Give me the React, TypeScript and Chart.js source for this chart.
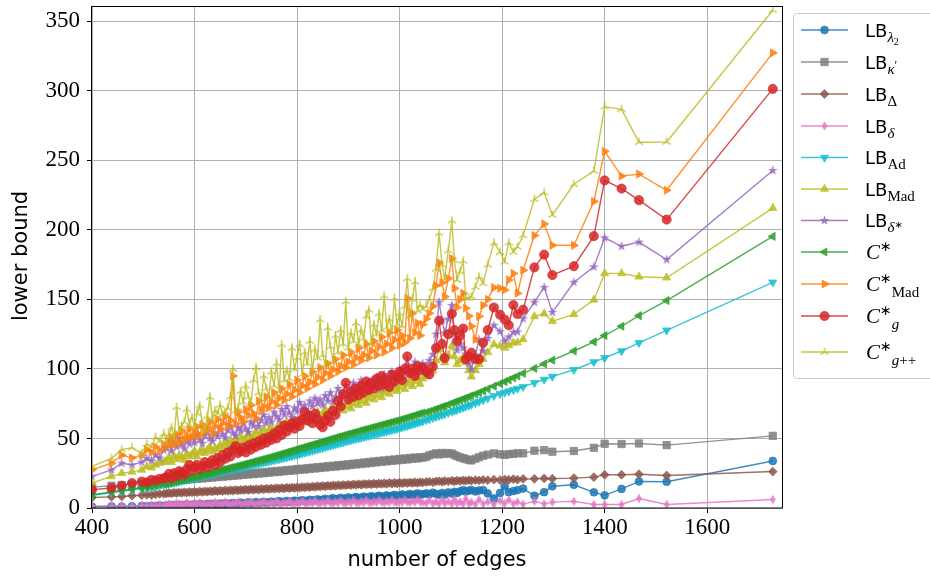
import React, { useEffect, useRef } from "react";
import { Chart, registerables } from "chart.js";
import { drawPoint } from "chart.js/helpers";
Chart.register(...registerables);

// ---------------- data ----------------
const edges = [
  400, 438, 458, 478, 497, 507, 516, 524, 532, 540,
  545, 550, 555, 560, 565, 570, 575, 580, 585, 590,
  595, 600, 605, 610, 615, 620, 625, 630, 635, 640,
  645, 650, 655, 660, 665, 670, 675, 680, 685, 690,
  695, 700, 705, 710, 715, 720, 725, 730, 735, 740,
  745, 750, 755, 760, 765, 770, 775, 780, 785, 790,
  795, 800, 805, 810, 815, 820, 825, 830, 835, 840,
  845, 850, 855, 860, 865, 870, 875, 880, 885, 890,
  895, 900, 905, 910, 915, 920, 925, 930, 935, 940,
  945, 950, 955, 960, 965, 970, 975, 980, 985, 990,
  995, 1000, 1005, 1010, 1015, 1020, 1025, 1030, 1035, 1040,
  1045,
  1052, 1058, 1065, 1071, 1077, 1083, 1088, 1095, 1102, 1107,
  1112, 1118, 1124, 1129, 1135, 1140, 1148, 1155, 1163, 1172,
  1184, 1196, 1205, 1213, 1222, 1230, 1241, 1263, 1282, 1298,
  1340, 1379, 1400, 1433, 1467, 1521, 1728,
];

const lbLambda2 = [
  1, 1.2, 1, 1.3, 1.5, 1.2, 1.6, 1.4, 1.8, 1.5,
  1.7, 2, 1.6, 2.2, 1.8, 2.3, 1.9, 2.1, 2.5, 2,
  2.3, 2.6, 2.1, 2.8, 2.4, 2.2, 2.9, 2.5, 3, 2.6,
  2.8, 3.2, 2.7, 3.4, 2.9, 3.1, 3.6, 3, 3.3, 3.8,
  3.2, 3.5, 4, 3.4, 3.7, 4.2, 3.6, 3.9, 4.4, 3.8,
  4.1, 4.6, 4, 4.3, 4.9, 4.2, 4.5, 5.1, 4.4, 4.8,
  5.3, 4.7, 5, 5.6, 5, 5.3, 5.9, 5.3, 5.7, 6.2,
  5.6, 6, 6.6, 5.9, 6.3, 7, 6.2, 6.6, 7.3, 6.5,
  6.9, 7.6, 6.8, 7.2, 7.9, 7.1, 7.5, 8.2, 7.4, 7.8,
  8.5, 7.7, 8.1, 8.8, 8, 8.4, 9.1, 8.3, 8.7, 9.4,
  8.6, 9, 9.7, 8.9, 9.3, 10.1, 9.2, 9.7, 10.5, 9.6,
  10,
  10.5, 9.9, 11, 10.2, 9.6, 10.8, 9.6, 11.3, 10.4, 11.6,
  10.8, 12, 12.9, 11.8, 12.5, 12.9, 11.9, 12.6, 12.9, 10.5,
  6.9, 10.8, 15.6, 11.4, 12.2, 12.9, 14, 8.8, 11.4, 15.6,
  16.7, 11.3, 9.1, 13.7, 19.1, 18.9, 33.8,
];

const lbKappa = [
  15, 16, 16.5, 17, 17.5, 18, 17.8, 18.5, 18.8, 19,
  19.2, 19.9, 19.4, 20.1, 19.7, 20.5, 20.2, 20.8, 20.3, 21.1,
  20.7, 21.4, 21, 21.7, 21.2, 22.1, 21.6, 22.3, 21.9, 22.7,
  22.2, 23, 22.5, 23.3, 22.8, 23.6, 23.1, 23.9, 23.4, 24.2,
  23.8, 24.5, 24.1, 24.9, 24.4, 25.2, 24.7, 25.6, 25, 25.9,
  25.4, 26.3, 25.7, 26.6, 26, 26.9, 26.4, 27.3, 26.7, 27.6,
  27, 28, 27.4, 28.3, 27.7, 28.7, 28.1, 29, 28.4, 29.4,
  28.8, 29.7, 29.1, 30.1, 29.5, 30.4, 29.8, 30.8, 30.2, 31.1,
  30.5, 31.5, 30.9, 31.9, 31.3, 32.3, 31.6, 32.7, 32, 33.1,
  32.4, 33.5, 32.8, 33.9, 33.2, 34.2, 33.5, 34.6, 33.9, 34.9,
  34.2, 35.3, 34.6, 35.6, 34.9, 36, 35.3, 36.3, 35.6, 36.5,
  36.2,
  36.8, 37.9, 38.6, 39.3, 38.5, 39.6, 38.9, 39.5, 39.2, 38.1,
  37.2, 36.4, 35.8, 35.2, 34.6, 34.2, 35.4, 36.5, 37.6, 38.4,
  39.3, 38.6, 38.2, 38.7, 39, 39.4, 39.3, 41.2, 41.6, 40.5,
  41, 43.3, 46.2, 46, 46.4, 45.2, 51.9,
];

const lbDelta = [
  7.5, 8, 8.3, 8.8, 9.2, 9.5, 9.3, 9.9, 10.1, 10.2,
  10.4, 10.8, 10.5, 11, 10.7, 11.2, 10.9, 11.4, 11, 11.5,
  11.2, 11.7, 11.3, 11.9, 11.5, 12, 11.7, 12.2, 11.8, 12.4,
  12, 12.5, 12.1, 12.7, 12.3, 12.8, 12.4, 13, 12.6, 13.1,
  12.8, 13.3, 12.9, 13.5, 13.1, 13.6, 13.2, 13.8, 13.4, 13.9,
  13.6, 14.1, 13.7, 14.3, 13.9, 14.4, 14, 14.6, 14.2, 14.7,
  14.4, 14.9, 14.5, 15.1, 14.7, 15.3, 14.9, 15.5, 15.1, 15.7,
  15.3, 15.9, 15.5, 16.1, 15.7, 16.3, 15.9, 16.5, 16.1, 16.6,
  16.2, 16.8, 16.4, 17, 16.6, 17.1, 16.7, 17.3, 16.9, 17.4,
  17, 17.6, 17.1, 17.7, 17.3, 17.8, 17.4, 18, 17.5, 18.1,
  17.6, 18.2, 17.7, 18.3, 17.9, 18.4, 18, 18.5, 18.1, 18.6,
  18.3,
  18.7, 18.9, 18.5, 19.1, 19.3, 18.8, 19.4, 19.2, 19.6, 19.1,
  19.7, 19.4, 19.9, 19.5, 20, 19.6, 20.1, 19.8, 20.2, 20,
  20.4, 20.1, 20.5, 20.3, 20.7, 20.4, 20.9, 21, 21.3, 21.1,
  21.5, 22.2, 23.9, 23.9, 24.3, 23.4, 26.2,
];

const lbSmallDelta = [
  1.5, 1.5, 1.8, 1.5, 2, 1.6, 2.2, 1.8, 2.4, 1.9,
  2.2, 3.1, 2.5, 2, 3.6, 2.4, 3, 2.2, 3.8, 2.6,
  2.3, 3.3, 2.7, 4, 2.4, 3.1, 2.6, 3.5, 2.3, 4.2,
  2.8, 3.2, 2.5, 4.3, 2.9, 2.6, 3.7, 2.7, 4.4, 3,
  2.6, 3.8, 2.9, 4.6, 3.1, 2.7, 3.9, 3, 4.7, 3.2,
  2.8, 4, 3.1, 4.9, 3.3, 2.9, 4.1, 3.2, 5, 3.4,
  3, 4.2, 3.3, 5.1, 3.5, 3.1, 4.3, 3.4, 5.2, 3.6,
  3.2, 4.4, 3.5, 5.3, 3.7, 3.3, 4.5, 3.6, 5.4, 3.8,
  3.4, 4.6, 3.7, 5.5, 3.9, 3.5, 4.7, 3.8, 5.6, 4,
  3.6, 4.8, 3.9, 5.7, 4.1, 3.7, 4.9, 4, 5.8, 4.2,
  3.8, 5, 4.1, 5.9, 4.3, 3.9, 5.1, 4.2, 6, 4.4,
  4,
  3.5, 5.5, 3.2, 4.6, 3, 6, 3.4, 4.8, 3.1, 6.4,
  3.3, 4.5, 3, 6.8, 3.2, 4.2, 2.8, 6.1, 3, 4.5,
  2.6, 5.2, 3.4, 5.8, 3.1, 4.4, 2.8, 4.8, 3, 4.2,
  4.8, 2.5, 2.5, 2.5, 6.8, 2.5, 6.1,
];

const lbAd = [
  9, 11, 12, 13, 14, 14.5, 15.1, 15.7, 16.2, 16.8,
  17.1, 17.5, 17.9, 18.3, 18.7, 19.1, 19.5, 19.9, 20.3, 20.7,
  21.1, 21.5, 21.9, 22.4, 22.8, 23.2, 23.6, 24.1, 24.5, 24.9,
  25.4, 25.8, 26.2, 26.6, 27, 27.4, 27.8, 28.2, 28.6, 29,
  29.4, 29.8, 30.2, 30.6, 31, 31.5, 31.9, 32.3, 32.7, 33.1,
  33.6, 34, 34.4, 34.8, 35.2, 35.7, 36.1, 36.5, 37, 37.4,
  37.9, 38.3, 38.8, 39.3, 39.8, 40.3, 40.8, 41.3, 41.8, 42.3,
  42.8, 43.3, 43.8, 44.3, 44.8, 45.3, 45.8, 46.3, 46.8, 47.3,
  47.8, 48.3, 48.8, 49.2, 49.7, 50.1, 50.6, 51, 51.5, 52,
  52.4, 52.9, 53.3, 53.8, 54.3, 54.7, 55.2, 55.7, 56.1, 56.6,
  57, 57.5, 58, 58.6, 59.1, 59.7, 60.2, 60.8, 61.3, 61.9,
  62.4,
  63.3, 64, 64.8, 65.6, 66.3, 67, 67.6, 68.5, 69.3, 70,
  70.6, 71.4, 72.2, 72.9, 73.7, 74.4, 75.5, 76.5, 77.7, 78.9,
  80.6, 82, 83, 84, 85, 85.9, 87.2, 90, 92.4, 94.5,
  99.4, 105, 107.9, 112.9, 118.8, 127.8, 162.3,
];

const lbMad = [
  17.9, 22.7, 25, 26, 27.4, 29.8, 29, 31, 32.2, 33,
  34, 36.5, 33, 37.5, 35, 38, 36.5, 34.5, 39, 37,
  38.5, 41, 37, 40, 42.5, 39.5, 41.5, 44, 40.5, 43,
  42, 45.5, 43, 47, 44.5, 48.5, 46, 49.5, 47, 51,
  48.5, 50, 53, 49.5, 52, 55, 51.5, 54, 57, 53,
  55.5, 58, 54.5, 57, 60, 56, 59, 62, 58, 61,
  63.5, 60, 62.5, 65, 61.5, 64, 67, 63, 66, 69,
  65, 68, 71, 66.5, 70, 72.5, 68, 71, 74.5, 70,
  73, 76, 71.5, 75, 78, 74, 77, 80, 75.5, 79,
  82, 78, 81, 84, 79.5, 83, 86, 82, 85, 88,
  84, 87, 90, 85.5, 89, 92, 87.5, 91, 94, 89,
  93,
  95, 97, 98.7, 106, 114, 108, 104.6, 110, 116.5, 109,
  103.4, 106, 108, 104.6, 99, 94.4, 99, 103.4, 107, 112,
  117.7, 116.5, 115.2, 117, 118.8, 119, 121.2, 137.8, 139.7, 134.3,
  139.3, 149.7, 168.7, 168.7, 166.3, 165.6, 215.7,
];

const lbDeltaStar = [
  22.7, 27.4, 32.2, 31, 33, 35.7, 34, 38, 36, 41.7,
  43, 46.5, 41, 48, 44, 50, 45.5, 42.5, 49, 46,
  51, 47, 53.5, 49, 46.5, 52, 55, 50, 48, 54,
  51.5, 57, 53, 50.5, 56, 59, 54, 52, 58, 55.5,
  61, 57, 54.5, 62, 59, 64, 58.5, 63, 67, 61,
  65, 62, 69, 66, 63.5, 71, 67, 73, 68.5, 65,
  72, 69.5, 76, 71, 74, 68, 77, 73, 79, 75,
  78, 74, 81, 77, 83, 76.5, 80, 86, 79, 82.5,
  88, 81, 85, 90, 83.5, 87, 92, 85, 89, 84,
  91, 87, 94, 89.5, 86, 96, 91, 93.5, 98, 90,
  95, 100, 93, 97, 103, 96.5, 99, 105, 98, 102,
  104,
  102, 106, 110.5, 125, 148, 135, 126, 136, 145.7, 125,
  113.4, 118, 115, 110.8, 104, 99.9, 110, 121.2, 112.9, 122,
  131.4, 127, 120, 123, 126.4, 126.7, 136.2, 148, 158.7, 140.7,
  162.3, 173.4, 194.3, 188.2, 191.2, 178.6, 242.7,
];

const cStar = [
  9.5, 11.5, 12.5, 13.5, 14.5, 15, 15.6, 16.2, 16.9, 17.4,
  17.6, 18, 18.4, 18.9, 19.3, 19.8, 20.2, 20.7, 21.1, 21.6,
  22, 22.4, 22.9, 23.3, 23.8, 24.2, 24.7, 25.2, 25.6, 26.1,
  26.6, 27, 27.5, 27.9, 28.4, 28.9, 29.3, 29.8, 30.3, 30.7,
  31.2, 31.7, 32.2, 32.7, 33.2, 33.7, 34.2, 34.7, 35.2, 35.7,
  36.2, 36.7, 37.2, 37.8, 38.3, 38.9, 39.4, 40, 40.5, 41.1,
  41.6, 42.2, 42.7, 43.3, 43.8, 44.4, 44.9, 45.5, 46, 46.6,
  47.1, 47.7, 48.2, 48.8, 49.3, 49.9, 50.4, 51, 51.5, 52,
  52.6, 53.1, 53.6, 54.1, 54.6, 55.2, 55.7, 56.2, 56.7, 57.2,
  57.7, 58.2, 58.7, 59.2, 59.7, 60.2, 60.7, 61.2, 61.7, 62.2,
  62.7, 63.2, 63.8, 64.3, 64.9, 65.5, 66, 66.6, 67.2, 67.8,
  68.3,
  68.7, 69.4, 70.3, 71.1, 71.9, 72.7, 73.3, 74.3, 75.3, 76,
  76.7, 77.5, 78.4, 79.1, 80, 80.7, 81.8, 82.9, 84.2, 85.6,
  87.6, 89.4, 90.8, 92.1, 93.6, 94.9, 96.8, 100.4, 103.6, 106.3,
  112.9, 119.5, 124, 130.7, 138.3, 149.2, 195.3,
];

const cStarMad = [
  27.4, 32.2, 38, 36, 38, 42, 40, 44, 41, 46,
  44, 48, 51, 45.5, 53, 47, 55.5, 49, 52, 57,
  50.5, 54, 58.5, 52, 60, 55, 57.5, 62, 53.5, 59,
  64, 56.5, 61, 66, 58.5, 63, 95, 60.5, 69, 65,
  62, 71, 66.5, 74, 68, 64.5, 77, 70, 73, 80,
  72, 76.5, 83, 74, 79, 86, 77.5, 82, 89, 80,
  85, 92, 83, 88, 95, 86, 90.5, 98, 89, 94,
  101, 92, 97, 104, 95, 99.5, 107, 98, 102, 110,
  101, 105, 112, 103, 108, 115, 106, 110, 118, 108,
  113, 120, 110, 116, 123, 112, 118, 126, 115, 121,
  128, 117, 124, 119, 151, 122, 140, 126, 133, 124,
  132,
  136, 140, 145, 160, 176.3, 162, 152, 165, 179.4, 158,
  144.2, 150, 154.4, 143.7, 138, 130.7, 121.2, 137.8, 145.7, 150,
  158.5, 158, 156.8, 164, 168.7, 154.4, 171, 196, 204.3, 188.9,
  188.9, 220.4, 256.5, 238.7, 240.1, 228.5, 327.3,
];

const cStarG = [
  13.2, 14.4, 16, 17.9, 19, 18.5, 20.3, 19.8, 21, 21.4,
  22, 24.5, 21.5, 25, 23, 26.5, 25.5, 24, 28, 31,
  27, 29.5, 31, 28, 30, 33, 29.5, 32, 34.5, 31,
  36, 33, 38, 35.5, 40, 37, 42, 44.5, 39.5, 41,
  43.5, 40, 45, 42, 46.5, 44, 48, 45.5, 50, 47,
  51, 49, 53.5, 50, 56, 52.5, 59.5, 55, 58, 61,
  57, 62, 59, 64, 69, 63, 66, 61, 67.8, 64,
  60, 58, 63, 66.5, 62, 70, 67, 77, 73, 82,
  90, 78, 84, 80, 86, 81, 88, 83, 91, 85,
  90, 86, 93, 88, 95, 89, 92, 87, 96, 91,
  94, 98, 92, 100, 109, 97, 100, 95, 102, 99,
  101,
  98, 96, 101.7, 115, 134.7, 118, 107.7, 125, 139.7, 128,
  120, 124, 129, 107, 109, 111.7, 107, 107, 118.8, 128,
  144.2, 139, 135.5, 131.4, 146, 139.5, 142.6, 173, 182.2, 167.5,
  173.9, 195.5, 235.6, 229.7, 221.4, 207.4, 301.4,
];

const cStarGpp = [
  30, 35.7, 42, 43.4, 39.3, 46, 44, 51, 48, 53.5,
  47, 53, 58, 50, 72.5, 56, 59, 62, 71, 60,
  65, 58, 68, 73.7, 61, 56, 66, 79.7, 64, 70,
  68, 74, 67, 69, 72, 80, 100, 70, 72, 84,
  76, 88, 80, 75, 92, 101, 83, 78, 95, 86,
  80, 98, 88, 104, 84, 117.6, 92, 99, 93, 115,
  100, 108, 117.6, 96, 112, 104, 120, 99, 114, 108,
  135.5, 110, 103, 129.5, 116, 106, 124, 112, 128, 118,
  148.5, 115, 126, 120, 133, 118, 128, 122, 138, 142.6,
  118, 132, 125, 140, 128, 152.6, 130, 136, 127, 150.9,
  132, 140, 131, 145, 165, 138, 150, 162.7, 142, 146,
  143,
  145, 150, 158, 172, 197.6, 175, 165, 185, 206.7, 178,
  164, 170, 177.7, 150.9, 151, 152, 159, 166.3, 161.5, 175,
  190.8, 184, 177, 190.8, 184, 187.7, 196, 222, 226.8, 210.7,
  232.8, 242.3, 288.6, 286.7, 263, 263.2, 357.9,
];

const xTicks = [400, 600, 800, 1000, 1200, 1400, 1600];
const yTicks = [0, 50, 100, 150, 200, 250, 300, 350];

// ---------------- styling ----------------
const SANS = '"DejaVu Sans", sans-serif';
const SERIF = '"Liberation Serif", serif';

function rgba(hex: string, a: number) {
  const n = parseInt(hex.slice(1), 16);
  return `rgba(${(n >> 16) & 255},${(n >> 8) & 255},${n & 255},${a})`;
}

function makeCanvas(size: number, draw: (c: CanvasRenderingContext2D) => void) {
  const c = document.createElement("canvas");
  c.width = size;
  c.height = size;
  const ctx = c.getContext("2d")!;
  ctx.translate(size / 2, size / 2);
  draw(ctx);
  return c;
}

function starMarker(color: string) {
  return makeCanvas(13, (ctx) => {
    const R = 5.2, r = R * 0.382;
    ctx.beginPath();
    for (let i = 0; i < 10; i++) {
      const rad = -Math.PI / 2 + (i * Math.PI) / 5;
      const rr = i % 2 === 0 ? R : r;
      const px = Math.cos(rad) * rr, py = Math.sin(rad) * rr;
      if (i === 0) ctx.moveTo(px, py); else ctx.lineTo(px, py);
    }
    ctx.closePath();
    ctx.fillStyle = color;
    ctx.fill();
  });
}

function thinDiamondMarker(color: string) {
  return makeCanvas(12, (ctx) => {
    ctx.beginPath();
    ctx.moveTo(0, -4.8);
    ctx.lineTo(2.9, 0);
    ctx.lineTo(0, 4.8);
    ctx.lineTo(-2.9, 0);
    ctx.closePath();
    ctx.fillStyle = color;
    ctx.fill();
  });
}

function triMarker(color: string) {
  return makeCanvas(12, (ctx) => {
    const r = 4.6;
    ctx.strokeStyle = color;
    ctx.lineWidth = 1.4;
    ctx.beginPath();
    ctx.moveTo(0, 0); ctx.lineTo(0, -r);
    ctx.moveTo(0, 0); ctx.lineTo(-0.866 * r, 0.5 * r);
    ctx.moveTo(0, 0); ctx.lineTo(0.866 * r, 0.5 * r);
    ctx.stroke();
  });
}

type Run = { t: string; f: string; dy: number; stack?: boolean; dx?: number };

const LB: Run = { t: "LB", f: `18px ${SANS}`, dy: 0 };
const SUBI = `italic 15px ${SERIF}`;
const SUBR = `15px ${SERIF}`;
const C: Run = { t: "C", f: `italic 21px ${SERIF}`, dy: 0, dx: 1 };
const STAR: Run = { t: "∗", f: `14px ${SANS}`, dy: -8 };

const legendRuns: Run[][] = [
  [LB, { t: "λ", f: SUBI, dy: 5 }, { t: "2", f: `10px ${SERIF}`, dy: 8 }],
  [LB, { t: "κ", f: SUBI, dy: 5 }, { t: "′", f: `12px ${SERIF}`, dy: 0 }],
  [LB, { t: "Δ", f: SUBR, dy: 5 }],
  [LB, { t: "δ", f: SUBI, dy: 5 }],
  [LB, { t: "Ad", f: SUBR, dy: 5 }],
  [LB, { t: "Mad", f: SUBR, dy: 5 }],
  [LB, { t: "δ", f: SUBI, dy: 5 }, { t: "∗", f: `10px ${SANS}`, dy: 1 }],
  [C, STAR],
  [C, STAR, { t: "Mad", f: `15px ${SERIF}`, dy: 6, stack: true }],
  [C, STAR, { t: "g", f: `italic 15px ${SERIF}`, dy: 6, stack: true }],
  [C, STAR, { t: "g", f: `italic 15px ${SERIF}`, dy: 6, stack: true }, { t: "++", f: `15px ${SERIF}`, dy: 6 }],
];
const legendY = [30, 62, 94, 126, 157.5, 189, 220.5, 252, 284, 316, 352];

export default function App() {
  const ref = useRef<HTMLCanvasElement>(null);

  useEffect(() => {
    document.body.style.margin = "0";
    const canvas = ref.current!;
    const A = 0.85;

    const specs = [
      { label: "LBl2", data: lbLambda2, color: "#1f77b4", style: "circle" as any, r: 3.9, rot: 0 },
      { label: "LBk", data: lbKappa, color: "#7f7f7f", style: "rect" as any, r: 5.2, rot: 0 },
      { label: "LBD", data: lbDelta, color: "#8c564b", style: "rectRot" as any, r: 4.4, rot: 0 },
      { label: "LBd", data: lbSmallDelta, color: "#e377c2", style: null as any, r: 4, rot: 0 },
      { label: "LBAd", data: lbAd, color: "#17becf", style: "triangle" as any, r: 4.7, rot: 180 },
      { label: "LBMad", data: lbMad, color: "#bcbd22", style: "triangle" as any, r: 4.7, rot: 0 },
      { label: "LBds", data: lbDeltaStar, color: "#9467bd", style: null as any, r: 4, rot: 0 },
      { label: "C", data: cStar, color: "#2ca02c", style: "triangle" as any, r: 4.7, rot: 270 },
      { label: "CMad", data: cStarMad, color: "#ff7f0e", style: "triangle" as any, r: 4.7, rot: 90 },
      { label: "Cg", data: cStarG, color: "#d62728", style: "circle" as any, r: 4.6, rot: 0 },
      { label: "Cgpp", data: cStarGpp, color: "#bcbd22", style: null as any, r: 4, rot: 0 },
    ];
    specs[3].style = thinDiamondMarker(rgba(specs[3].color, A));
    specs[6].style = starMarker(rgba(specs[6].color, A));
    specs[10].style = triMarker(rgba(specs[10].color, A));

    const n = specs.length;
    const datasets = specs.map((s, i) => ({
      label: s.label,
      data: edges.map((x, k) => ({ x, y: s.data[k] })),
      borderColor: rgba(s.color, A),
      backgroundColor: rgba(s.color, A),
      borderWidth: 1.4,
      pointStyle: s.style,
      pointRadius: s.r,
      pointRotation: s.rot,
      pointBorderWidth: 0.8,
      pointBackgroundColor: rgba(s.color, A),
      pointBorderColor: rgba(s.color, A),
      tension: 0,
      fill: false,
      clip: 0,
      order: n - i,
    }));

    const overlay = {
      id: "overlay",
      afterDatasetsDraw(chart: any) {
        const { ctx, chartArea: ca } = chart;
        ctx.save();
        ctx.strokeStyle = "#000";
        ctx.lineWidth = 1;
        ctx.strokeRect(Math.round(ca.left) - 0.5, Math.round(ca.top) + 0.5, Math.round(ca.right - ca.left) + 1, Math.round(ca.bottom - ca.top) - 0.5);
        ctx.restore();
      },
      afterDraw(chart: any) {
        const ctx: CanvasRenderingContext2D = chart.ctx;
        ctx.save();
        ctx.fillStyle = "#000";
        ctx.font = `21px ${SANS}`;
        ctx.textAlign = "center";
        ctx.textBaseline = "middle";
        ctx.fillText("number of edges", 437, 561);
        ctx.save();
        ctx.translate(22, 256);
        ctx.rotate(-Math.PI / 2);
        ctx.fillText("lower bound", 0, 0);
        ctx.restore();

        // legend box
        ctx.beginPath();
        const bx = 793.5, by = 13.5, bw = 145, bh = 365, rr = 3;
        ctx.moveTo(bx + rr, by);
        ctx.lineTo(bx + bw - rr, by);
        ctx.arcTo(bx + bw, by, bx + bw, by + rr, rr);
        ctx.lineTo(bx + bw, by + bh - rr);
        ctx.arcTo(bx + bw, by + bh, bx + bw - rr, by + bh, rr);
        ctx.lineTo(bx + rr, by + bh);
        ctx.arcTo(bx, by + bh, bx, by + bh - rr, rr);
        ctx.lineTo(bx, by + rr);
        ctx.arcTo(bx, by, bx + rr, by, rr);
        ctx.closePath();
        ctx.fillStyle = "rgba(255,255,255,0.8)";
        ctx.fill();
        ctx.strokeStyle = "#cccccc";
        ctx.lineWidth = 1;
        ctx.stroke();

        specs.forEach((s, i) => {
          const y = legendY[i];
          const col = rgba(s.color, A);
          ctx.strokeStyle = col;
          ctx.fillStyle = col;
          ctx.lineWidth = 1.4;
          ctx.beginPath();
          ctx.moveTo(801, y);
          ctx.lineTo(848, y);
          ctx.stroke();
          ctx.lineWidth = 0.8;
          drawPoint(ctx, { pointStyle: s.style, radius: s.r, rotation: s.rot, borderWidth: 0.8 } as any, 824.5, y);

          ctx.fillStyle = "#000";
          ctx.textAlign = "left";
          ctx.textBaseline = "alphabetic";
          let x = 865;
          let lastStart = x;
          const base = y + 6.5;
          legendRuns[i].forEach((run) => {
            ctx.font = run.f;
            const start = run.stack ? lastStart : x;
            ctx.fillText(run.t, start + (run.dx || 0), base + run.dy);
            const w = ctx.measureText(run.t).width + (run.dx || 0);
            if (!run.stack) { lastStart = x + w; x = start + w; }
            else { x = Math.max(x, start + w); }
          });
        });
        ctx.restore();
      },
    };

    const tickFont = { family: '"Liberation Serif", serif', size: 23 };
    const chart = new Chart(canvas, {
      type: "line",
      data: { datasets: datasets as any },
      options: {
        responsive: false,
        animation: false,
        events: [],
        layout: { padding: { left: 0, right: 148, top: 2, bottom: 0 } },
        plugins: { legend: { display: false }, tooltip: { enabled: false }, title: { display: false } },
        scales: {
          x: {
            type: "linear",
            min: 400,
            max: 1746,
            afterBuildTicks: (s: any) => { s.ticks = xTicks.map((v) => ({ value: v })); },
            afterFit: (s: any) => { s.height = 72; s.paddingLeft = 0; s.paddingRight = 0; s.paddingTop = 0; s.paddingBottom = 0; },
            grid: { color: "#b0b0b0", lineWidth: 1, drawTicks: true, tickLength: 5, tickColor: "#000", tickWidth: 1 },
            border: { display: false },
            ticks: { color: "#000", font: tickFont, padding: 1, maxRotation: 0, autoSkip: false, callback: (v: any) => String(v) },
          },
          y: {
            type: "linear",
            min: 0,
            max: 361,
            afterBuildTicks: (s: any) => { s.ticks = yTicks.map((v) => ({ value: v })); },
            afterFit: (s: any) => { s.width = 92; s.paddingLeft = 0; s.paddingRight = 0; s.paddingTop = 0; s.paddingBottom = 0; },
            grid: { color: "#b0b0b0", lineWidth: 1, drawTicks: true, tickLength: 5, tickColor: "#000", tickWidth: 1 },
            border: { display: false },
            ticks: { color: "#000", font: tickFont, padding: 7, autoSkip: false, callback: (v: any) => String(v) },
          },
        },
      } as any,
      plugins: [overlay as any],
    });
    return () => chart.destroy();
  }, []);

  return (
    <div style={{ width: 930, height: 580 }}>
      <canvas ref={ref} width={930} height={580} style={{ display: "block" }} />
    </div>
  );
}
